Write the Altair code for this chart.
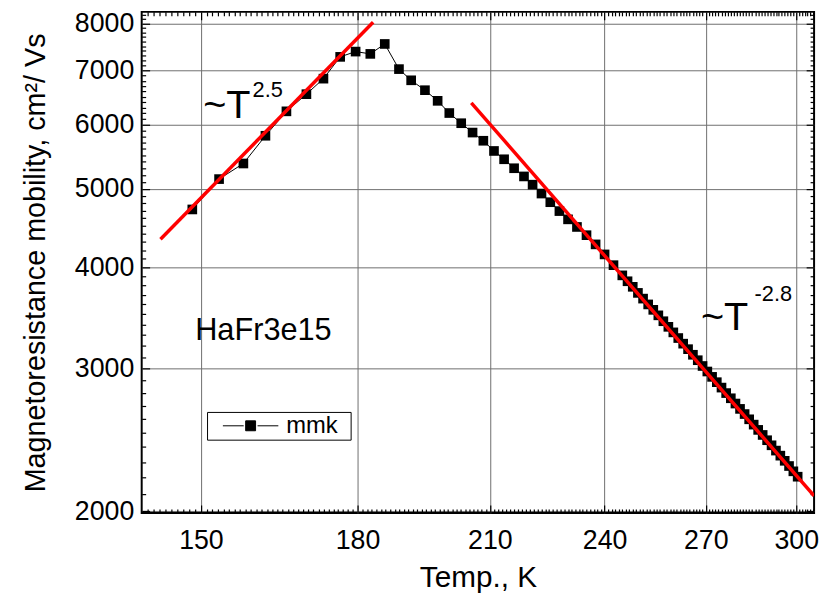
import altair as alt
import pandas as pd

FONT = "Liberation Sans"

# ---- data ----
T_data = [148.5, 153.2, 157.6, 161.7, 165.7, 169.6, 173.0, 176.4, 179.6, 182.7,
          185.8, 188.9, 191.6, 194.7, 197.6, 200.3, 203.1, 205.8, 208.4, 211.0,
          213.5, 216.0, 218.5, 220.7, 223.0, 225.3, 227.7, 230.0, 232.4, 235.0,
          237.5, 240.0, 242.5, 245.0, 246.5, 248.0, 249.5, 251.0, 252.5, 254.0,
          255.5, 257.0, 258.5, 260.0, 261.5, 263.0, 264.5, 266.0, 267.5, 269.0,
          270.5, 272.0, 273.5, 275.0, 276.5, 278.0, 279.5, 281.0, 282.5, 284.0,
          285.5, 287.0, 288.5, 290.0, 291.5, 293.0, 294.5, 296.0, 297.5, 299.0,
          300.5]
mu_data = [4716, 5141, 5374, 5815, 6233, 6545, 6840, 7277, 7387, 7339,
           7549, 7028, 6808, 6619, 6422, 6203, 6026, 5868, 5733, 5569,
           5439, 5302, 5180, 5060, 4934, 4814, 4694, 4585, 4487, 4383,
           4270, 4150, 4025, 3910, 3845, 3785, 3720, 3660, 3600, 3545,
           3490, 3432, 3378, 3325, 3272, 3220, 3170, 3120, 3072, 3022,
           2975, 2930, 2886, 2842, 2798, 2757, 2716, 2675, 2636, 2597,
           2558, 2520, 2484, 2447, 2412, 2376, 2342, 2308, 2274, 2240,
           2206]
series_name = "mmk"

fit1_T = [143.1, 183.3]
fit1_mu = [4333, 8030]
fit2_T = [205.5, 306.3]
fit2_mu = [6386, 2089]

big_labels = ["~T", "~T"]
big_T = [150.4, 268.5]
big_mu = [6115, 3343]
sup_labels = ["2.5", "-2.8"]
sup_T = [159.3, 285.8]
sup_mu = [6500, 3640]
name_labels = ["HaFr3e15"]
name_T = [149.0]
name_mu = [3254]

x_major = [150, 180, 210, 240, 270, 300]
y_major = [2000, 3000, 4000, 5000, 6000, 7000, 8000]
x_minor = [t for t in range(141, 307) if t not in x_major]
y_minor = [v for v in range(2000, 8300, 100) if v not in y_major]

# ---- chart ----
W, H = 679, 506
GRID = "#6e6e6e"
xs = alt.Scale(type="log", domain=[140.0, 306.3], nice=False)
ys = alt.Scale(type="log", domain=[1990, 8270], nice=False)


def tick_axis(orient, values, size):
    return alt.Axis(orient=orient, values=values, tickSize=size, offset=-size,
                    labels=False, domain=False, grid=False, ticks=True,
                    tickColor="black", tickWidth=1.2)


df = pd.DataFrame({"T": T_data, "mu": mu_data, "series": series_name})
df_fit1 = pd.DataFrame({"T": fit1_T, "mu": fit1_mu})
df_fit2 = pd.DataFrame({"T": fit2_T, "mu": fit2_mu})

line = alt.Chart(df).mark_line(color="black", strokeWidth=1).encode(
    x=alt.X("T:Q", scale=xs, axis=alt.Axis(
        orient="bottom", values=x_major, format="d", grid=True, gridColor=GRID,
        gridWidth=1, ticks=False, domain=False, labelFontSize=27, labelFont=FONT,
        labelColor="black", labelPadding=15, title="Temp., K", titleFontSize=30,
        titleFont=FONT, titleFontWeight="normal", titleColor="black", titlePadding=9)),
    y=alt.Y("mu:Q", scale=ys, axis=alt.Axis(
        orient="left", values=y_major, format="d", grid=True, gridColor=GRID,
        gridWidth=1, ticks=False, domain=False, labelFontSize=27, labelFont=FONT,
        labelColor="black", labelPadding=8,
        title="Magnetoresistance mobility, cm\u00b2/ Vs", titleFontSize=29,
        titleFont=FONT, titleFontWeight="normal", titleColor="black", titlePadding=24)),
)

points = alt.Chart(df).mark_point(shape="square", filled=True, size=95, opacity=1).encode(
    x=alt.X("T:Q", scale=xs, title=None, axis=tick_axis("bottom", x_major, 8)),
    y=alt.Y("mu:Q", scale=ys, title=None, axis=tick_axis("left", y_major, 8)),
    color=alt.Color("series:N", scale=alt.Scale(range=["black"]), legend=alt.Legend(
        orient="none", legendX=66, legendY=404, title=".", titleOrient="right",
        titleColor="white", titleFontSize=24, titlePadding=4,
        symbolType="M-5.6,0H-1.4M1.4,0H5.6M-1,-1H1V1H-1Z", symbolSize=100,
        symbolFillColor="black", symbolStrokeColor="black", symbolStrokeWidth=1,
        symbolOffset=30, labelOffset=24, labelFontSize=24, labelFont=FONT,
        labelColor="black", strokeColor="black", fillColor="white", padding=2,
        cornerRadius=0)),
)

fit1 = alt.Chart(df_fit1).mark_line(color="#ff0000", strokeWidth=3.5, clip=True).encode(
    x=alt.X("T:Q", scale=xs, title=None, axis=tick_axis("bottom", x_minor, 4)),
    y=alt.Y("mu:Q", scale=ys, title=None, axis=tick_axis("left", y_minor, 4)),
)

fit2 = alt.Chart(df_fit2).mark_line(color="#ff0000", strokeWidth=3.5, clip=True).encode(
    x=alt.X("T:Q", scale=xs, title=None, axis=tick_axis("top", x_major, 8)),
    y=alt.Y("mu:Q", scale=ys, title=None, axis=tick_axis("right", y_major, 8)),
)

ghost = alt.Chart(df).mark_point(opacity=0).encode(
    x=alt.X("T:Q", scale=xs, title=None, axis=tick_axis("top", x_minor, 4)),
    y=alt.Y("mu:Q", scale=ys, title=None, axis=tick_axis("right", y_minor, 4)),
)


def text_layer(labels, tv, mv, fs):
    d = pd.DataFrame({"T": tv, "mu": mv, "label": labels})
    return alt.Chart(d).mark_text(align="left", baseline="alphabetic", fontSize=fs,
                                  font=FONT, color="black").encode(
        x=alt.X("T:Q", scale=xs, axis=None),
        y=alt.Y("mu:Q", scale=ys, axis=None),
        text="label:N",
    )


t_big = text_layer(big_labels, big_T, big_mu, 40)
t_sup = text_layer(sup_labels, sup_T, sup_mu, 22)
t_name = text_layer(name_labels, name_T, name_mu, 31)

chart = alt.layer(line, points, fit1, fit2, ghost, t_big, t_sup, t_name).resolve_axis(
    x="independent", y="independent"
).properties(
    width=W, height=H,
    padding={"left": 135, "top": 1, "right": 8, "bottom": 85},
    autosize=alt.AutoSizeParams(type="none"),
).configure_view(stroke="black", strokeWidth=2)

chart.save("out.html", embed_options={"renderer": "svg", "actions": False})
